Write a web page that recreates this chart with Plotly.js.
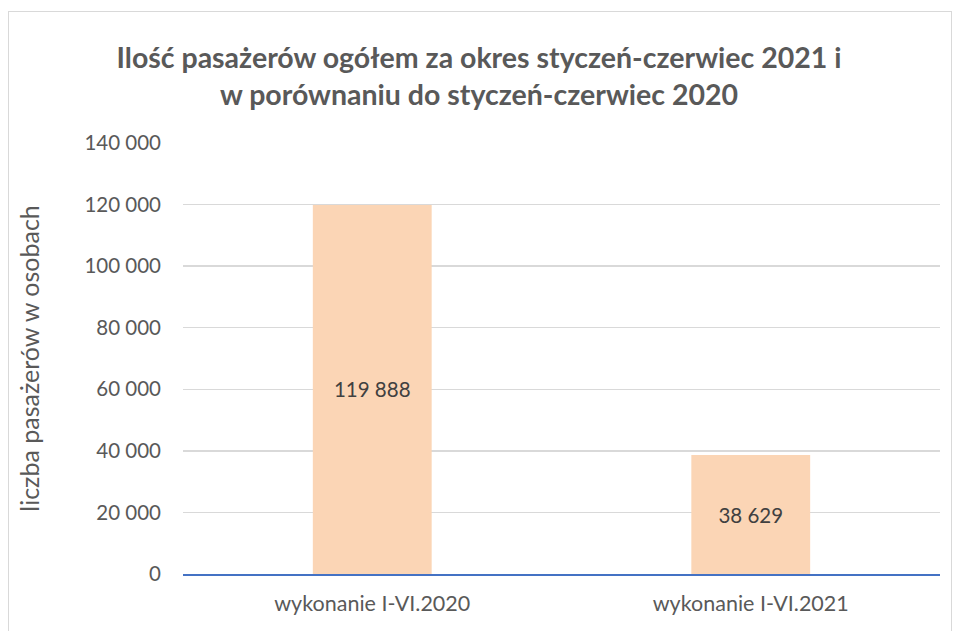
<!DOCTYPE html>
<html>
<head>
<meta charset="utf-8">
<script src="https://cdn.plot.ly/plotly-3.0.1.min.js"></script>
<style>
html,body{margin:0;padding:0;background:#fff;}
#frame{position:absolute;left:8px;top:11px;width:944px;height:640px;border:1.5px solid #d9d9d9;box-sizing:border-box;}
#chart{position:absolute;left:0;top:0;width:958px;height:631px;}
</style>
</head>
<body>
<div id="frame"></div>
<div id="chart"></div>
<script>
const categories = ["wykonanie I-VI.2020", "wykonanie I-VI.2021"];
const values = [119888, 38629];
const labels = ["119 888", "38 629"];
const tickVals = [0, 20000, 40000, 60000, 80000, 100000, 120000, 140000];
const tickText = ["0", "20 000", "40 000", "60 000", "80 000", "100 000", "120 000", "140 000"];

const font = "Lato, 'Open Sans', sans-serif";

Plotly.newPlot("chart", [{
  type: "bar",
  x: categories,
  y: values,
  text: labels,
  textposition: "inside",
  insidetextanchor: "middle",
  textfont: {family: font, size: 20.5, color: "#404040"},
  marker: {color: "#FBD5B5"},
  hoverinfo: "none"
}], {
  width: 958, height: 631,
  paper_bgcolor: "rgba(0,0,0,0)",
  plot_bgcolor: "rgba(0,0,0,0)",
  margin: {l: 183, r: 18, t: 143, b: 57},
  bargap: 0.686,
  showlegend: false,
  title: {
    text: "<b>Ilość pasażerów ogółem za okres styczeń-czerwiec 2021 i<br>w porównaniu do styczeń-czerwiec 2020</b>",
    x: 0.5, xanchor: "center", xref: "container", y: 0.893, yanchor: "top",
    font: {family: font, size: 28.5, color: "#595959"}
  },
  xaxis: {
    showgrid: false,
    showline: true, linecolor: "#4472C4", linewidth: 2,
    ticks: "",
    ticklabelstandoff: 9,
    tickfont: {family: font, size: 21.5, color: "#595959"},
    fixedrange: true
  },
  yaxis: {
    range: [0, 140000],
    tickvals: tickVals, ticktext: tickText,
    showgrid: true, gridcolor: "#d9d9d9", gridwidth: 1.5,
    zeroline: false, showline: false, ticks: "",
    ticklabelstandoff: 21,
    tickfont: {family: font, size: 20.5, color: "#595959"},
    title: {text: "liczba pasażerów w osobach", standoff: 37,
            font: {family: font, size: 25, color: "#595959"}},
    fixedrange: true
  }
}, {staticPlot: true});
</script>
</body>
</html>
